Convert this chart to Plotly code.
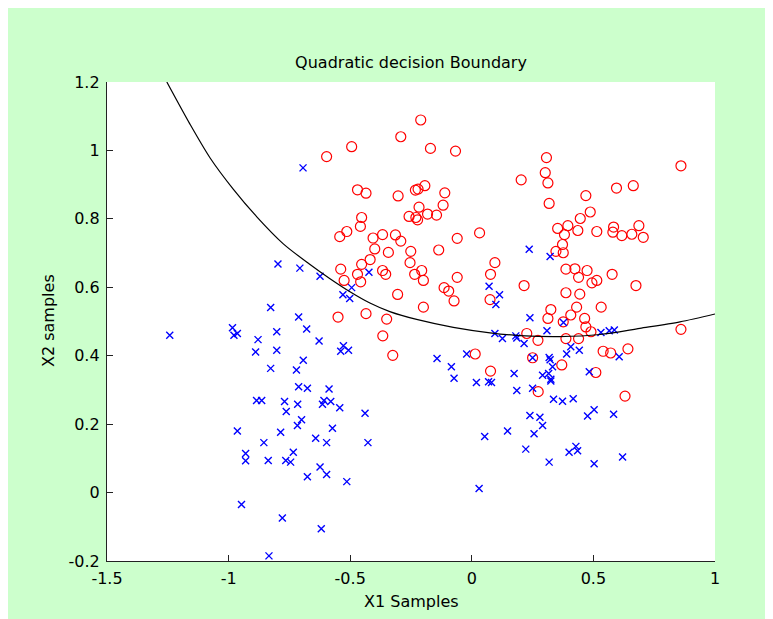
import plotly.graph_objects as go

# ---- data ----
red_x = [-0.210, -0.292, -0.494, -0.170, -0.067, -0.597, -0.470, -0.435, -0.303, -0.221, -0.193, -0.232,
         -0.111, -0.118, -0.217, -0.258, -0.230, -0.182, -0.145, -0.223, -0.453, -0.458, -0.514, -0.543,
         0.032, -0.060, -0.406, -0.367, -0.314, -0.292, -0.399, -0.343, -0.251, -0.136, -0.418, -0.453,
         -0.254, -0.539, -0.367, -0.354, -0.470, -0.235, -0.206, -0.199, -0.525, -0.457, -0.060, -0.114,
         -0.095, -0.073, -0.305, -0.199, 0.095, 0.077, 0.075, -0.550, -0.435, -0.350,
         0.307, 0.860, 0.302, 0.203, 0.313, 0.595, 0.664, 0.469, 0.318, 0.487, 0.446, 0.353, 0.395,
         0.436, 0.381, 0.514, 0.583, 0.580, 0.617, 0.658, 0.687, 0.705, 0.373, 0.346, 0.376, 0.387,
         0.424, 0.474, 0.439, 0.494, 0.514, 0.577, 0.215, 0.675, 0.387, 0.444, 0.431, 0.532, 0.325,
         0.313, 0.407, 0.464, 0.376, 0.860,
         0.226, 0.272, 0.469, 0.490, 0.387, 0.439, 0.250, 0.370, 0.510, 0.540, 0.571, 0.642, 0.273,
         0.630, -0.366, -0.325, 0.014, 0.077]
red_y = [1.089, 1.040, 1.011, 1.006, 0.998, 0.982, 0.885, 0.875, 0.867, 0.887, 0.897, 0.884,
         0.876, 0.840, 0.834, 0.807, 0.804, 0.814, 0.811, 0.797, 0.804, 0.778, 0.763, 0.748,
         0.759, 0.743, 0.744, 0.754, 0.753, 0.735, 0.712, 0.702, 0.705, 0.709, 0.681, 0.667,
         0.672, 0.653, 0.649, 0.638, 0.638, 0.638, 0.649, 0.620, 0.620, 0.616, 0.629, 0.599,
         0.589, 0.560, 0.579, 0.542, 0.672, 0.638, 0.564, 0.513, 0.523, 0.507,
         0.979, 0.955, 0.935, 0.914, 0.905, 0.890, 0.897, 0.868, 0.845, 0.820, 0.801, 0.772, 0.780,
         0.766, 0.754, 0.763, 0.776, 0.761, 0.751, 0.755, 0.780, 0.746, 0.725, 0.705, 0.701, 0.653,
         0.654, 0.649, 0.629, 0.613, 0.620, 0.638, 0.605, 0.605, 0.584, 0.580, 0.542, 0.542, 0.535,
         0.509, 0.519, 0.509, 0.499, 0.477,
         0.465, 0.445, 0.484, 0.470, 0.450, 0.450, 0.394, 0.373, 0.351, 0.413, 0.408, 0.420, 0.295,
         0.282, 0.458, 0.401, 0.405, 0.355]

blue_x = [-0.694, -0.797, -0.707, -0.827, -0.712, -0.984, -0.802, -0.679,
          -0.423, -0.624, -0.494, -0.530, -0.502, 0.071, 0.114, 0.099,
          0.236, 0.322, 0.239, 0.377,
          0.181, 0.215, 0.309, 0.531, 0.565, 0.586, 0.407, 0.442, 0.390, 0.318, 0.322, 0.332, 0.250,
          0.174, 0.291, 0.316, 0.325, 0.325, 0.483, 0.606, 0.185, 0.250, 0.336, 0.373, 0.417, 0.239,
          0.280, 0.291, 0.256, 0.147, 0.476, 0.503, 0.583, 0.222, 0.318, 0.400, 0.428, 0.435, 0.503,
          0.620, 0.185,
          -0.628, -0.528, -0.539, -0.507, -0.693, -0.676, -0.587, -0.608, -0.580, -0.614, -0.543,
          -0.439, -0.573, -0.642, -0.597, -0.427, -0.624, -0.597, -0.676, -0.514, -0.619, -0.143,
          -0.084, -0.073, -0.021, 0.019, 0.069, 0.081, 0.053, 0.030, 0.095, 0.126,
          -1.242, -0.978, -0.964, -0.879, -0.889, -0.802, -0.827, -0.721, -0.712, -0.885, -0.864,
          -0.770, -0.763, -0.716, -0.700, -0.717, -0.964, -0.786, -0.855, -0.930, -0.930, -0.837,
          -0.765, -0.745, -0.734, -0.947, -0.779, -0.834]
blue_y = [0.949, 0.668, 0.656, 0.541, 0.513, 0.482, 0.470, 0.478,
          0.644, 0.632, 0.599, 0.578, 0.567, 0.603, 0.578, 0.550,
          0.711, 0.690, 0.511, 0.497,
          0.458, 0.436, 0.473, 0.468, 0.473, 0.475, 0.426, 0.416, 0.405, 0.395, 0.388, 0.368, 0.394,
          0.348, 0.343, 0.348, 0.331, 0.326, 0.353, 0.397, 0.298, 0.305, 0.273, 0.267, 0.274, 0.225,
          0.220, 0.196, 0.172, 0.180, 0.224, 0.242, 0.229, 0.127, 0.089, 0.118, 0.135, 0.122, 0.084,
          0.104, 0.452,
          0.443, 0.429, 0.413, 0.416, 0.387, 0.305, 0.303, 0.269, 0.266, 0.258, 0.248,
          0.232, 0.188, 0.159, 0.146, 0.146, 0.075, 0.053, 0.046, 0.032, -0.106, 0.392,
          0.368, 0.334, 0.405, 0.322, 0.324, 0.322, 0.164, 0.012, 0.465, 0.450,
          0.460, 0.460, 0.465, 0.447, 0.411, 0.416, 0.363, 0.358, 0.309, 0.269, 0.269,
          0.266, 0.237, 0.258, 0.213, 0.196, 0.180, 0.176, 0.146, 0.114, 0.093, 0.094,
          0.094, 0.089, 0.118, -0.035, -0.074, -0.185]

boundary_x = [-1.254, -1.159, -1.076, -0.981, -0.884, -0.775, -0.668, -0.583, -0.501, -0.419,
              -0.337, -0.227, -0.076, 0.075, 0.198, 0.362, 0.527, 0.691, 0.856, 1.0]
boundary_y = [1.200, 1.077, 0.978, 0.887, 0.806, 0.727, 0.668, 0.625, 0.587, 0.554,
              0.529, 0.506, 0.483, 0.467, 0.459, 0.456, 0.462, 0.480, 0.499, 0.522]

x_ticks = [-1.5, -1, -0.5, 0, 0.5, 1]
x_tick_labels = ["-1.5", "-1", "-0.5", "0", "0.5", "1"]
y_ticks = [-0.2, 0, 0.2, 0.4, 0.6, 0.8, 1.0, 1.2]
y_tick_labels = ["-0.2", "0", "0.2", "0.4", "0.6", "0.8", "1", "1.2"]

title_text = "Quadratic decision Boundary"
x_label = "X1 Samples"
y_label = "X2 samples"

FONT = "DejaVu Sans"
GREEN = "#CCFFCC"

fig = go.Figure()
fig.add_trace(go.Scatter(x=red_x, y=red_y, mode="markers",
                         marker=dict(symbol="circle-open", size=10, color="#FF0000",
                                     line=dict(color="#FF0000", width=1.2))))
fig.add_trace(go.Scatter(x=blue_x, y=blue_y, mode="markers",
                         marker=dict(symbol="x-thin", size=7, color="#0000FF",
                                     line=dict(color="#0000FF", width=1.4))))
fig.add_trace(go.Scatter(x=boundary_x, y=boundary_y, mode="lines",
                         line=dict(color="black", width=1.2, shape="spline", smoothing=0.8)))

axis_common = dict(showline=True, linecolor="#222222", linewidth=1.3, mirror=False,
                   ticks="inside", ticklen=6, tickcolor="#222222", tickwidth=1.3,
                   showgrid=False, zeroline=False,
                   tickfont=dict(family=FONT, size=16, color="black"))

fig.update_layout(
    width=773, height=619,
    margin=dict(l=99, r=66, t=74, b=66),
    paper_bgcolor=GREEN, plot_bgcolor="white",
    showlegend=False,
    title=dict(text=title_text, x=0.5, xref="paper", xanchor="center",
               y=1 - 54 / 619, yref="container", yanchor="middle",
               font=dict(family=FONT, size=16, color="black")),
    xaxis=dict(range=[-1.5, 1], tickvals=x_ticks, ticktext=x_tick_labels,
               ticklabelstandoff=3, **axis_common),
    yaxis=dict(range=[-0.2, 1.2], tickvals=y_ticks, ticktext=y_tick_labels,
               ticklabelstandoff=3, **axis_common),
    annotations=[
        dict(text=x_label, xref="paper", yref="paper", x=0.5, y=-40 / 479,
             xanchor="center", yanchor="middle", showarrow=False,
             font=dict(family=FONT, size=16, color="black")),
        dict(text=y_label, xref="paper", yref="paper", x=-59 / 608, y=(561 - 321) / 479,
             xanchor="center", yanchor="middle", textangle=-90, showarrow=False,
             font=dict(family=FONT, size=16, color="black")),
    ],
)

fig.write_html("out.html")
